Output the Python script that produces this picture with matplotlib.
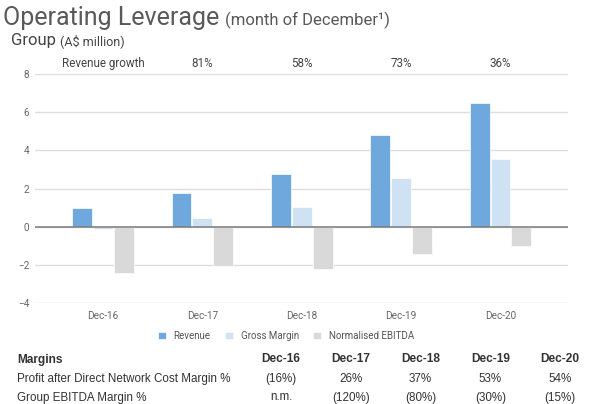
import numpy as np
import matplotlib
matplotlib.use("Agg")
import matplotlib.pyplot as plt

# ── Data ──────────────────────────────────────────────────────────────────────
periods        = ["Dec-16", "Dec-17", "Dec-18", "Dec-19", "Dec-20"]
revenue        = [0.96, 1.75, 2.76, 4.80, 6.49]
gross_margin   = [-0.14, 0.46, 1.03, 2.57, 3.53]
norm_ebitda    = [-2.44, -2.06, -2.23, -1.43, -0.99]
growth_labels  = ["Revenue growth", "81%", "58%", "73%", "36%"]

margin_rows    = ["Profit after Direct Network Cost Margin %", "Group EBITDA Margin %"]
pdnc_margin    = ["(16%)", "26%", "37%", "53%", "54%"]
ebitda_margin  = ["n.m.", "(120%)", "(80%)", "(30%)", "(15%)"]

CHART_FONT = ["Roboto", "DejaVu Sans"]
TABLE_FONT = ["Liberation Sans", "DejaVu Sans"]
plt.rcParams["font.family"] = CHART_FONT

C_REV, C_GM, C_EB = "#6fa8dc", "#cfe2f3", "#d9d9d9"
W, H = 590, 404

fig = plt.figure(figsize=(W / 100, H / 100), dpi=100)
ax = fig.add_axes([35 / W, 0.25, (568 - 35) / W, 0.5668])

x = np.arange(len(periods))
bw = 0.2
ax.bar(x - 0.21, revenue,      bw, color=C_REV, edgecolor="white", linewidth=0.5, label="Revenue", zorder=2)
ax.bar(x,        gross_margin, bw, color=C_GM,  edgecolor="white", linewidth=0.5, label="Gross Margin", zorder=2)
ax.bar(x + 0.21, norm_ebitda,  bw, color=C_EB,  edgecolor="white", linewidth=0.5, label="Normalised EBITDA", zorder=2)

ax.axhline(0, color="#7a7a7a", linewidth=1.1, zorder=3)
ax.set_ylim(-4, 8)
ax.set_xlim(-0.685, 4.68)
ax.set_yticks(range(-4, 9, 2))
ax.set_xticks(x)
ax.set_xticklabels(periods)
ax.grid(axis="y", color="#dedede", linewidth=1.0, zorder=1)
for s in ax.spines.values():
    s.set_visible(False)
ax.tick_params(axis="both", length=0, labelsize=7.2, colors="#666666")
ax.tick_params(axis="y", pad=4)
ax.tick_params(axis="x", pad=6)

# revenue growth header row
for i, lab in enumerate(growth_labels):
    ax.text(i, 8.53, lab, ha="center", va="center", fontsize=8.4, color="#444444", clip_on=False)

# ── Titles ────────────────────────────────────────────────────────────────────
fig.text(3 / W, 1 - 25 / H, "Operating Leverage", fontsize=18, color="#595959", va="baseline")
fig.text(225 / W, 1 - 25 / H, "(month of December¹)", fontsize=12, color="#595959", va="baseline")
fig.text(11 / W, 1 - 45 / H, "Group", fontsize=12, color="#444444", va="baseline")
fig.text(60 / W, 1 - 45 / H, "(A$ million)", fontsize=9, color="#444444", va="baseline")

# ── Legend ────────────────────────────────────────────────────────────────────
fig.legend(loc="center", bbox_to_anchor=(0.485, 1 - 336 / H), ncol=3, frameon=False,
           fontsize=7, handlelength=0.8, handleheight=0.8, handletextpad=0.8,
           columnspacing=1.5, labelcolor="#555555")

# ── Margins table ─────────────────────────────────────────────────────────────
col_x = np.linspace(281, 560, 5) / W
tcol = "#333333"
fig.text(17 / W, 1 - 362.5 / H, "Margins", fontsize=8.6, fontweight="bold", color=tcol,
         va="baseline", family=TABLE_FONT)
for cx, p in zip(col_x, periods):
    fig.text(cx, 1 - 362.5 / H, p, fontsize=8.6, fontweight="bold", color=tcol,
             ha="center", va="baseline", family=TABLE_FONT)
for row_y, name, vals in [(382, margin_rows[0], pdnc_margin), (400.5, margin_rows[1], ebitda_margin)]:
    fig.text(17 / W, 1 - row_y / H, name, fontsize=8.4, color=tcol, va="baseline", family=TABLE_FONT)
    for cx, v in zip(col_x, vals):
        fig.text(cx, 1 - row_y / H, v, fontsize=8.4, color=tcol, ha="center", va="baseline",
                 family=TABLE_FONT)

fig.savefig("out.png", dpi=100)
